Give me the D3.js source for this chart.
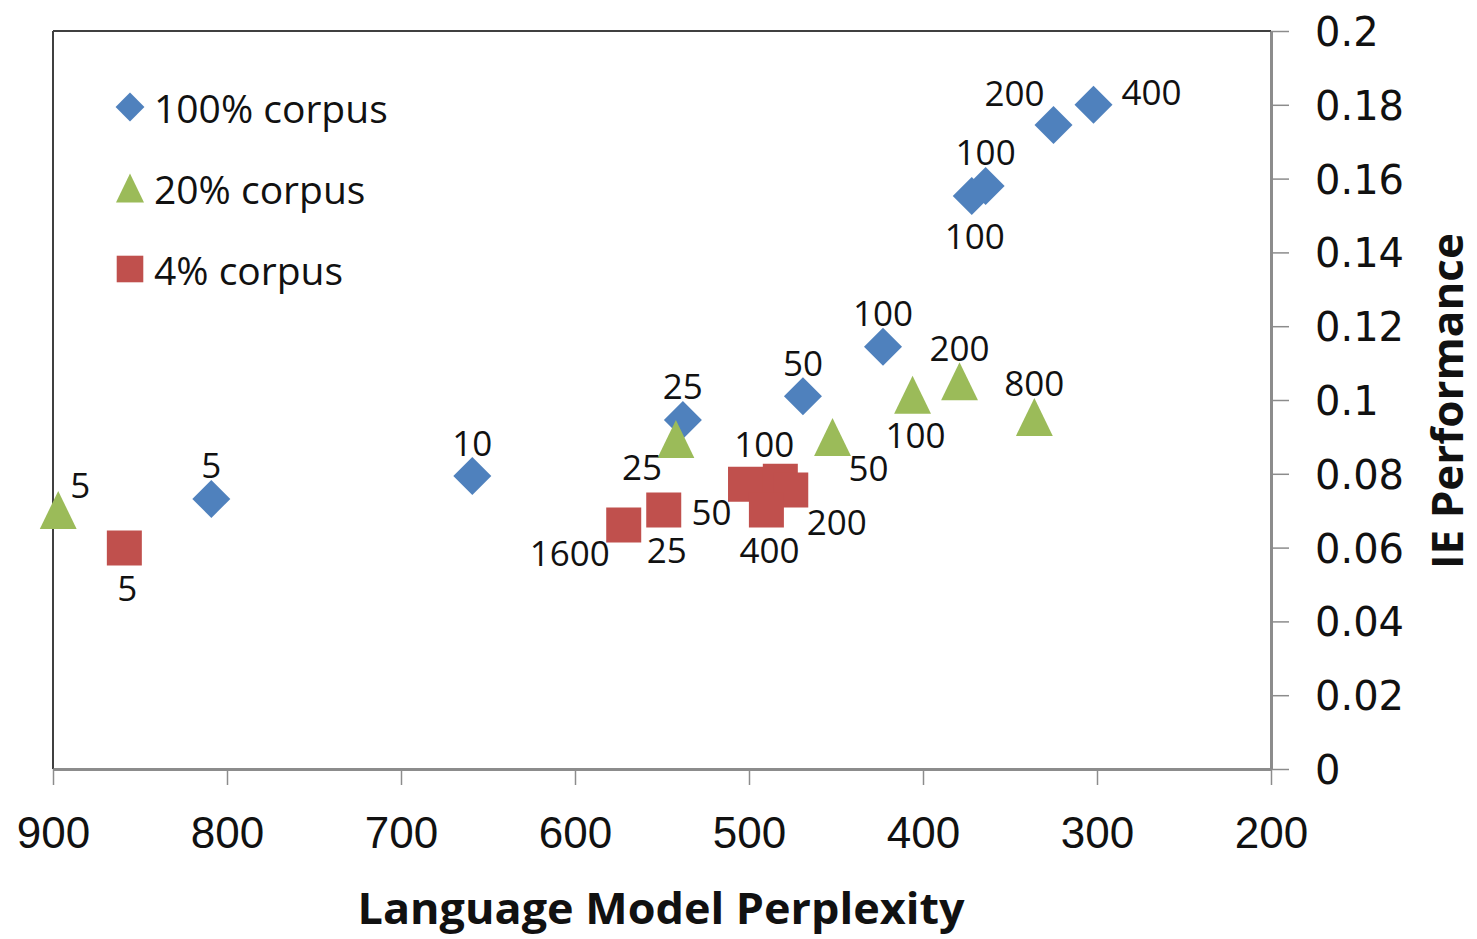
<!DOCTYPE html>
<html>
<head>
<meta charset="utf-8">
<script src="https://cdn.jsdelivr.net/npm/d3@7"></script>
<style>
  body { margin: 0; background: #fff; }
  svg { display: block; }
</style>
</head>
<body>
<svg id="chart" width="1477" height="939"></svg>
<script>
// series names and colours
var seriesNames = ["100% corpus", "20% corpus", "4% corpus"];

// 100% corpus (diamonds)
var perplexity100 = [809, 659, 538, 469, 423, 372, 364, 325, 302];
var ie100 = [0.0732, 0.0794, 0.0946, 0.101, 0.1144, 0.1553, 0.158, 0.1745, 0.180];
var labels100 = ["5", "10", "25", "50", "100", "100", "100", "200", "400"];
var labelPos100 = ["t", "t", "t", "t", "t", "b", "t", "tl", "r"];

// 20% corpus (triangles)
var perplexity20 = [897, 542, 452, 406, 379, 336];
var ie20 = [0.0702, 0.0894, 0.0900, 0.1014, 0.1051, 0.0954];
var labels20 = ["5", "25", "50", "100", "200", "800"];
var labelPos20 = ["tr", "bl", "br", "b", "t", "t"];

// 4% corpus (squares)
var perplexity4 = [859, 572, 549, 502, 482, 476, 490];
var ie4 = [0.0599, 0.0661, 0.0702, 0.0772, 0.0780, 0.0756, 0.0702];
var labels4 = ["5", "1600", "25", "50", "100", "200", "400"];
var labelPos4 = ["b", "bl", "b", "bl", "tl2", "br", "b"];

var xDomain = [900, 200];
var yDomain = [0, 0.2];

var margin = {top: 31, right: 206, bottom: 170, left: 53};
var W = 1477, H = 939;
var width = W - margin.left - margin.right;
var height = H - margin.top - margin.bottom;

var svg = d3.select("#chart");
var g = svg.append("g").attr("transform", "translate(" + margin.left + "," + margin.top + ")");

var x = d3.scaleLinear().domain(xDomain).range([0, width]);
var y = d3.scaleLinear().domain(yDomain).range([height, 0]);

var axisGray = "#8c8c8c";

// frame: dark top and left edges
g.append("line").attr("x1", 0).attr("x2", width).attr("y1", 0).attr("y2", 0)
  .attr("stroke", "#404040").attr("stroke-width", 2);
g.append("line").attr("x1", 0).attr("x2", 0).attr("y1", 0).attr("y2", height)
  .attr("stroke", "#404040").attr("stroke-width", 2);

// x axis
var xAxis = g.append("g")
  .attr("transform", "translate(0," + height + ")")
  .call(d3.axisBottom(x).ticks(7).tickSize(16).tickSizeOuter(0).tickFormat(d3.format("d")));
xAxis.select(".domain").attr("stroke", axisGray).attr("stroke-width", 3);
xAxis.selectAll(".tick line").attr("stroke", axisGray).attr("stroke-width", 1.5);
xAxis.selectAll(".tick text")
  .attr("y", 79).attr("dy", 0)
  .attr("fill", "#111")
  .style("font-family", "'Liberation Sans', Arial, sans-serif")
  .style("font-size", "44px");

// y axis on right
var yAxis = g.append("g")
  .attr("transform", "translate(" + width + ",0)")
  .call(d3.axisRight(y).ticks(10).tickSize(18).tickSizeOuter(0).tickFormat(d3.format("~g")));
yAxis.select(".domain").attr("stroke", axisGray).attr("stroke-width", 3);
yAxis.selectAll(".tick line").attr("stroke", axisGray).attr("stroke-width", 1.5);
yAxis.selectAll(".tick text")
  .attr("x", 44).attr("dy", "0.36em")
  .attr("fill", "#111")
  .style("font-family", "'DejaVu Sans', Verdana, sans-serif")
  .style("font-size", "40px");

// axis titles
svg.append("text")
  .attr("x", 661).attr("y", 924)
  .attr("text-anchor", "middle")
  .attr("textLength", 607).attr("lengthAdjust", "spacingAndGlyphs")
  .style("font-family", "'Open Sans', sans-serif")
  .style("font-weight", "bold").style("font-size", "43px")
  .attr("fill", "#111")
  .text("Language Model Perplexity");

svg.append("text")
  .attr("transform", "translate(1463,401) rotate(-90)")
  .attr("text-anchor", "middle")
  .attr("textLength", 336).attr("lengthAdjust", "spacingAndGlyphs")
  .style("font-family", "'Open Sans', sans-serif")
  .style("font-weight", "bold").style("font-size", "43px")
  .attr("fill", "#111")
  .text("IE Performance");

// custom marker shapes
var diamond = {
  draw: function (ctx, s) {
    ctx.moveTo(0, -s); ctx.lineTo(s, 0); ctx.lineTo(0, s); ctx.lineTo(-s, 0); ctx.closePath();
  }
};
var triangle = {
  draw: function (ctx, s) {
    ctx.moveTo(0, -s); ctx.lineTo(s * 0.97, s); ctx.lineTo(-s * 0.97, s); ctx.closePath();
  }
};
var square = {
  draw: function (ctx, s) {
    ctx.rect(-s, -s, 2 * s, 2 * s);
  }
};

var series = [
  {name: seriesNames[0], color: "#4f81bd", shape: diamond, r: 19,
    xs: perplexity100, ys: ie100, labels: labels100, pos: labelPos100},
  {name: seriesNames[1], color: "#9bbb59", shape: triangle, r: 19,
    xs: perplexity20, ys: ie20, labels: labels20, pos: labelPos20},
  {name: seriesNames[2], color: "#c0504d", shape: square, r: 17.5,
    xs: perplexity4, ys: ie4, labels: labels4, pos: labelPos4}
];

// label placement keywords -> offset and anchor
var placement = {
  t:   {dx: 0,   dy: -34, anchor: "middle"},
  b:   {dx: 3,   dy: 40,  anchor: "middle"},
  tl:  {dx: -9,  dy: -33, anchor: "end"},
  tl2: {dx: 14,  dy: -38, anchor: "end"},
  tr:  {dx: 12,  dy: -25, anchor: "start"},
  r:   {dx: 28,  dy: -13, anchor: "start"},
  bl:  {dx: -14, dy: 27,  anchor: "end"},
  br:  {dx: 16,  dy: 31,  anchor: "start"}
};

series.forEach(function (s) {
  var pts = s.xs.map(function (v, i) {
    return {px: v, ie: s.ys[i], label: s.labels[i], pos: s.pos[i]};
  });
  s.points = pts;
  g.append("g").selectAll("path")
    .data(pts)
    .enter()
    .append("path")
    .attr("d", d3.symbol().type(s.shape).size(s.r))
    .attr("transform", function (d) {
      return "translate(" + x(d.px) + "," + y(d.ie) + ")";
    })
    .attr("fill", s.color);
});

series.forEach(function (s) {
  g.append("g").selectAll("text")
    .data(s.points)
    .enter()
    .append("text")
    .attr("x", function (d) { return x(d.px) + placement[d.pos].dx; })
    .attr("y", function (d) { return y(d.ie) + placement[d.pos].dy; })
    .attr("text-anchor", function (d) { return placement[d.pos].anchor; })
    .attr("dominant-baseline", "central")
    .style("font-family", "'Open Sans', sans-serif")
    .style("font-size", "35px")
    .attr("fill", "#111")
    .text(function (d) { return d.label; });
});

// legend
var legend = svg.append("g").attr("transform", "translate(130,107)");
var leg = legend.selectAll("g")
  .data(series)
  .enter()
  .append("g")
  .attr("transform", function (d, i) { return "translate(0," + (i * 81) + ")"; });
leg.append("path")
  .attr("d", function (d) { return d3.symbol().type(d.shape).size(d.r * 0.76)(); })
  .attr("fill", function (d) { return d.color; });
leg.append("text")
  .attr("x", 24)
  .attr("y", 0)
  .attr("dominant-baseline", "central")
  .style("font-family", "'Open Sans', sans-serif")
  .style("font-size", "39px")
  .attr("fill", "#111")
  .text(function (d) { return d.name; });
</script>
</body>
</html>
